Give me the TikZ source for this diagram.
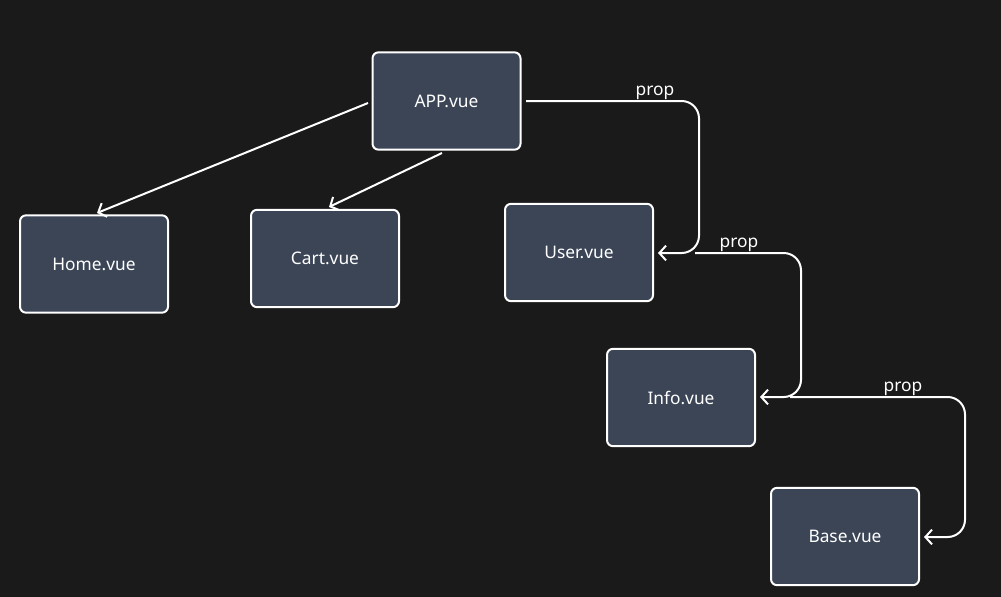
\documentclass[tikz,border=0pt]{standalone}
\usepackage{fontspec}
\setmainfont{Noto Sans}
\usetikzlibrary{arrows.meta}
\definecolor{bg}{HTML}{1A1A1A}
\definecolor{boxfill}{HTML}{3B4556}
\begin{document}
\begin{tikzpicture}[x=0.75pt,y=-0.75pt,
  vuebox/.style={draw=white,line width=1.5pt,fill=boxfill,rounded corners=4.5pt,
    minimum width=111pt,minimum height=73pt,inner sep=0pt,text=white,font=\fontsize{13}{15}\selectfont},
  conn/.style={draw=white,line width=1.5pt,-{Straight Barb[length=5pt,width=11pt,line width=1.5pt]}},
  lbl/.style={text=white,font=\fontsize{13}{15}\selectfont,inner sep=0pt}]
\fill[bg] (0,0) rectangle (1001,597);
\useasboundingbox (0,0) rectangle (1001,597);
\node[vuebox] (app) at (446.5,101) {\raisebox{-0.75pt}{APP.vue}};
\node[vuebox] (home) at (94,264) {\raisebox{-0.75pt}{Home.vue}};
\node[vuebox] (cart) at (325,258.5) {\raisebox{-0.75pt}{Cart.vue}};
\node[vuebox] (user) at (579,252.5) {\raisebox{-0.75pt}{User.vue}};
\node[vuebox] (info) at (681,397.5) {\raisebox{-0.75pt}{Info.vue}};
\node[vuebox] (base) at (845,536.5) {\raisebox{-0.75pt}{Base.vue}};
\coordinate (s1) at (368,103);
\coordinate (t1) at (97,213);
\coordinate (s2) at (442,153);
\coordinate (t2) at (329,207);
\coordinate (s3) at (526,101);
\coordinate (t3) at (658,253);
\coordinate (s4) at (695,253);
\coordinate (t4) at (760,397);
\coordinate (s5) at (790,397);
\coordinate (t5) at (924,537);
\draw[conn] (s1) -- (t1);
\draw[conn] (s2) -- (t2);
\draw[conn,rounded corners=13pt] (s3) -- (699,101) -- (699,253) -- (t3);
\draw[conn,rounded corners=13pt] (s4) -- (801,253) -- (801,397) -- (t4);
\draw[conn,rounded corners=13pt] (s5) -- (965,397) -- (965,537) -- (t5);
\node[lbl] (p1) at (655,92.5) {prop};
\node[lbl] (p2) at (739,244.5) {prop};
\node[lbl] (p3) at (903,388.5) {prop};
\end{tikzpicture}
\end{document}
